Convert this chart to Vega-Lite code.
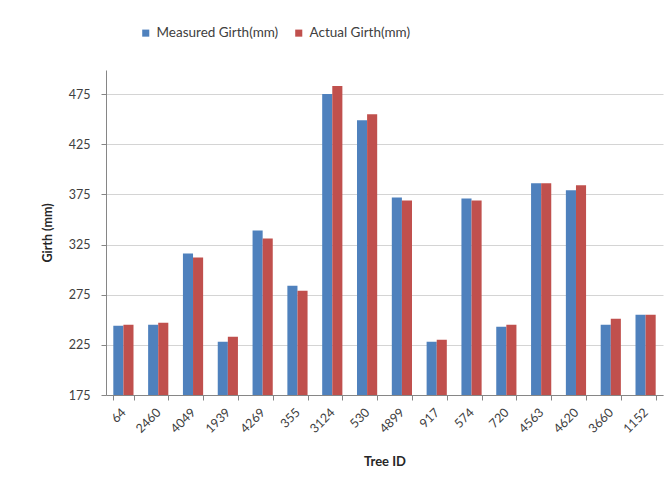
{
  "$schema": "https://vega.github.io/schema/vega-lite/v6.json",
  "width": 557,
  "height": 325,
  "autosize": {"type": "none"},
  "padding": {"left": 106, "top": 70, "right": 4, "bottom": 100},
  "background": "white",
  "config": {
    "font": "Lato",
    "view": {"stroke": null},
    "axis": {"labelFont": "Lato", "titleFont": "Lato", "labelColor": "#404040", "titleColor": "#262626"}
  },
  "data": {
    "values": [
      {"id": "64", "series": "Measured Girth(mm)", "girth": 244},
      {"id": "64", "series": "Actual Girth(mm)", "girth": 245},
      {"id": "2460", "series": "Measured Girth(mm)", "girth": 245},
      {"id": "2460", "series": "Actual Girth(mm)", "girth": 247},
      {"id": "4049", "series": "Measured Girth(mm)", "girth": 316},
      {"id": "4049", "series": "Actual Girth(mm)", "girth": 312},
      {"id": "1939", "series": "Measured Girth(mm)", "girth": 228},
      {"id": "1939", "series": "Actual Girth(mm)", "girth": 233},
      {"id": "4269", "series": "Measured Girth(mm)", "girth": 339},
      {"id": "4269", "series": "Actual Girth(mm)", "girth": 331},
      {"id": "355", "series": "Measured Girth(mm)", "girth": 284},
      {"id": "355", "series": "Actual Girth(mm)", "girth": 279},
      {"id": "3124", "series": "Measured Girth(mm)", "girth": 475},
      {"id": "3124", "series": "Actual Girth(mm)", "girth": 483},
      {"id": "530", "series": "Measured Girth(mm)", "girth": 449},
      {"id": "530", "series": "Actual Girth(mm)", "girth": 455},
      {"id": "4899", "series": "Measured Girth(mm)", "girth": 372},
      {"id": "4899", "series": "Actual Girth(mm)", "girth": 369},
      {"id": "917", "series": "Measured Girth(mm)", "girth": 228},
      {"id": "917", "series": "Actual Girth(mm)", "girth": 230},
      {"id": "574", "series": "Measured Girth(mm)", "girth": 371},
      {"id": "574", "series": "Actual Girth(mm)", "girth": 369},
      {"id": "720", "series": "Measured Girth(mm)", "girth": 243},
      {"id": "720", "series": "Actual Girth(mm)", "girth": 245},
      {"id": "4563", "series": "Measured Girth(mm)", "girth": 386},
      {"id": "4563", "series": "Actual Girth(mm)", "girth": 386},
      {"id": "4620", "series": "Measured Girth(mm)", "girth": 379},
      {"id": "4620", "series": "Actual Girth(mm)", "girth": 384},
      {"id": "3660", "series": "Measured Girth(mm)", "girth": 245},
      {"id": "3660", "series": "Actual Girth(mm)", "girth": 251},
      {"id": "1152", "series": "Measured Girth(mm)", "girth": 255},
      {"id": "1152", "series": "Actual Girth(mm)", "girth": 255}
    ]
  },
  "mark": {"type": "bar", "clip": true},
  "encoding": {
    "x": {
      "field": "id",
      "type": "nominal",
      "sort": null,
      "title": "Tree ID",
      "scale": {"paddingInner": 0.42, "paddingOuter": 0.21},
      "axis": {
        "labelAngle": -45,
        "labelAlign": "right",
        "labelBaseline": "middle",
        "labelFontSize": 12.5,
        "labelPadding": 10,
        "tickBand": "extent",
        "tickSize": 5,
        "tickColor": "#868686",
        "domainColor": "#868686",
        "titleFontSize": 13,
        "titleFontWeight": "bold",
        "titlePadding": 20
      }
    },
    "xOffset": {
      "field": "series",
      "type": "nominal",
      "sort": ["Measured Girth(mm)", "Actual Girth(mm)"]
    },
    "y": {
      "field": "girth",
      "type": "quantitative",
      "title": "Girth (mm)",
      "scale": {"domain": [175, 499], "zero": false, "nice": false},
      "axis": {
        "values": [175, 225, 275, 325, 375, 425, 475],
        "grid": true,
        "gridColor": "#d4d4d4",
        "domainColor": "#868686",
        "tickColor": "#868686",
        "tickSize": 5,
        "labelFontSize": 12.5,
        "labelPadding": 11,
        "titleFontSize": 12.5,
        "titleFontWeight": "bold",
        "titlePadding": 14
      }
    },
    "color": {
      "field": "series",
      "type": "nominal",
      "sort": ["Measured Girth(mm)", "Actual Girth(mm)"],
      "scale": {"range": ["#4F81BD", "#C0504D"]},
      "legend": {
        "title": null,
        "orient": "none",
        "direction": "horizontal",
        "legendX": 33,
        "legendY": -44,
        "symbolType": "square",
        "symbolSize": 50,
        "symbolStrokeWidth": 0,
        "labelFontSize": 13.5,
        "labelColor": "#404040",
        "columnPadding": 13
      }
    }
  }
}
